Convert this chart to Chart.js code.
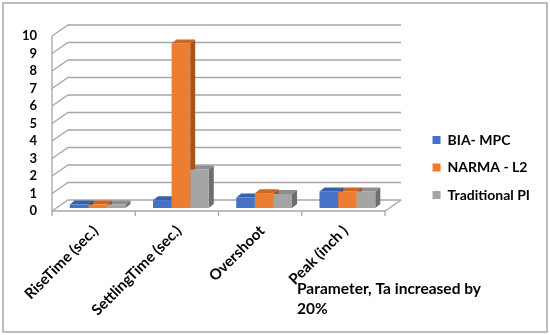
<!DOCTYPE html>
<html>
<head>
<meta charset="utf-8">
<script src="https://cdn.jsdelivr.net/npm/chart.js@4/dist/chart.umd.min.js"></script>
<style>
  html, body { margin: 0; padding: 0; background: #fff; overflow: hidden; }
</style>
</head>
<body>
<canvas id="chart" width="550" height="335"></canvas>
<script>
let categories = ['RiseTime (sec.)', 'SettlingTime (sec.)', 'Overshoot', 'Peak (inch )']
let biaMpc = [0.2, 0.45, 0.6, 0.95]
let narmaL2 = [0.2, 9.4, 0.85, 0.95]
let tradPi = [0.2, 2.2, 0.8, 0.95]
let yTicks = [0, 1, 2, 3, 4, 5, 6, 7, 8, 9, 10]
let seriesNames = ['BIA- MPC', 'NARMA - L2', 'Traditional PI']

let FONT = 'Lato, "Open Sans", sans-serif'
let front = ['#4472C4', '#ED7D31', '#A5A5A5']
let topc = ['#3761AC', '#D0661D', '#8E8E8E']
let side = ['#2B4E8C', '#A9521A', '#6E6E6E']

// depth of the bars, and offsets from the bar plane to the front / back walls
let BD = { x: 5, y: -4 }
let FR = { x: -4, y: 3 }
let BK = { x: 12, y: -8 }

function poly(ctx, pts, fill) {
    ctx.beginPath()
    ctx.moveTo(pts[0][0], pts[0][1])
    for (let i = 1; i < pts.length; i++) ctx.lineTo(pts[i][0], pts[i][1])
    ctx.closePath()
    ctx.fillStyle = fill
    ctx.fill()
}

let wall3d = {
    id: 'wall3d',
    beforeDatasetsDraw(chart) {
        let ctx = chart.ctx
        let y = chart.scales.y
        let a = chart.chartArea
        let y0 = y.getPixelForValue(0)
        ctx.save()
        ctx.lineWidth = 1.3
        ctx.strokeStyle = '#A6A6A6'
        // back wall gridlines with the left side diagonals
        yTicks.forEach(function (v) {
            let py = y.getPixelForValue(v)
            ctx.beginPath()
            ctx.moveTo(a.left + FR.x, py + FR.y)
            ctx.lineTo(a.left + BK.x, py + BK.y)
            ctx.lineTo(a.right + BK.x, py + BK.y)
            ctx.stroke()
        })
        // floor front and right edges
        ctx.beginPath()
        ctx.moveTo(a.left + FR.x, y0 + FR.y)
        ctx.lineTo(a.right + FR.x, y0 + FR.y)
        ctx.lineTo(a.right + BK.x, y0 + BK.y)
        ctx.stroke()
        // vertical axis line
        ctx.beginPath()
        ctx.moveTo(a.left + FR.x, y.getPixelForValue(10) + FR.y)
        ctx.lineTo(a.left + FR.x, y0 + FR.y)
        ctx.stroke()
        // category dividers
        let n = categories.length
        for (let i = 0; i <= n; i++) {
            let px = a.left + (a.right - a.left) * i / n + FR.x
            ctx.beginPath()
            ctx.moveTo(px, y0 + FR.y)
            ctx.lineTo(px, y0 + FR.y + 5)
            ctx.stroke()
        }
        // top faces, then side faces
        let metas = [0, 1, 2].map(function (d) { return chart.getDatasetMeta(d) })
        metas.forEach(function (m, d) {
            m.data.forEach(function (b) {
                let l = b.x - b.width / 2, r = b.x + b.width / 2
                poly(ctx, [[l, b.y], [l + BD.x, b.y + BD.y], [r + BD.x, b.y + BD.y], [r, b.y]], topc[d])
            })
        })
        metas.forEach(function (m, d) {
            m.data.forEach(function (b) {
                let r = b.x + b.width / 2
                poly(ctx, [[r, b.y], [r + BD.x, b.y + BD.y], [r + BD.x, b.base + BD.y], [r, b.base]], side[d])
            })
        })
        ctx.restore()
    },
    afterDraw(chart) {
        let ctx = chart.ctx
        ctx.save()
        ctx.strokeStyle = '#A6A6A6'
        ctx.lineWidth = 1.5
        ctx.strokeRect(3, 3, 544, 329)
        ctx.fillStyle = '#000'
        ctx.font = 'bold 15.5px ' + FONT
        ctx.textBaseline = 'middle'
        ctx.textAlign = 'left'
        ctx.fillText('Parameter, Ta increased by', 297, 289)
        ctx.fillText('20%', 297, 309)
        ctx.restore()
    }
}

function draw() {
    new Chart(document.getElementById('chart'), {
        type: 'bar',
        data: {
            labels: categories,
            datasets: [
                { label: seriesNames[0], data: biaMpc, backgroundColor: front[0] },
                { label: seriesNames[1], data: narmaL2, backgroundColor: front[1] },
                { label: seriesNames[2], data: tradPi, backgroundColor: front[2] }
            ]
        },
        options: {
            responsive: false,
            animation: false,
            devicePixelRatio: 1,
            categoryPercentage: 0.67,
            barPercentage: 1,
            layout: { padding: { top: 0, left: 0, right: 10, bottom: 0 } },
            plugins: {
                tooltip: { enabled: false },
                // empty spacer above the plot, kept off the legend column
                title: {
                    display: true, text: '', fullSize: false,
                    font: { size: 1, lineHeight: 1 }, padding: { top: 32, bottom: 0 }
                },
                legend: {
                    position: 'right',
                    maxWidth: 250,
                    labels: {
                        boxWidth: 8, boxHeight: 8, padding: 13.5, color: '#000',
                        font: { family: FONT, size: 14, weight: 'bold' }
                    }
                }
            },
            scales: {
                x: {
                    grid: { display: false }, border: { display: false },
                    ticks: {
                        color: '#000', autoSkip: false, minRotation: 45, maxRotation: 45,
                        padding: 6, labelOffset: -2,
                        font: { family: FONT, size: 15, weight: 'bold' }
                    },
                    afterFit(s) { s.height = 127 }
                },
                y: {
                    min: 0, max: 10,
                    grid: { display: false, drawTicks: false }, border: { display: false },
                    ticks: {
                        stepSize: 1, autoSkip: false, color: '#000', padding: 19, labelOffset: 3,
                        font: { family: FONT, size: 13, weight: 'bold' }
                    },
                    afterFit(s) { s.width = 56 }
                },
                y2: {
                    position: 'right', display: true,
                    grid: { display: false }, border: { display: false },
                    ticks: { display: false },
                    afterFit(s) { s.width = 30 }
                }
            }
        },
        plugins: [wall3d]
    })
}

Promise.all([
    document.fonts.load('bold 14px Lato'),
    document.fonts.load('14px Lato')
]).then(draw, draw)
</script>
</body>
</html>
